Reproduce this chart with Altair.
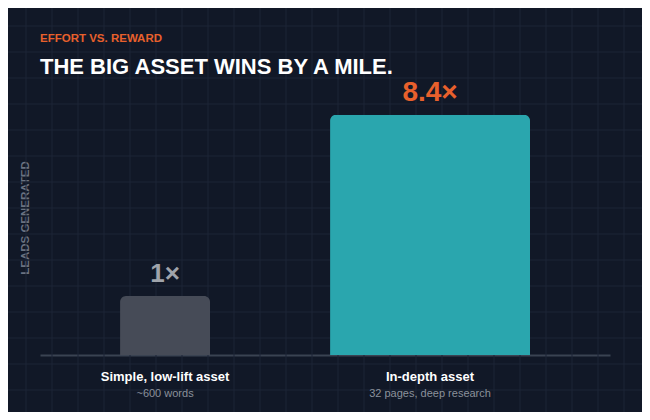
import altair as alt
import pandas as pd

# ---- data ----
categories = ["Simple, low-lift asset", "In-depth asset"]
details = ["~600 words", "32 pages, deep research"]
multiples = [1.0, 8.4]
multiple_labels = ["1×", "8.4×"]

# background grid (decoration, page pixels)
grid_x = list(range(0, 651, 26))
grid_y = list(range(0, 421, 26))

df = pd.DataFrame({"asset": categories, "detail": details,
                   "multiple": multiples, "label": multiple_labels})
gx = pd.DataFrame({"gx": grid_x})
gy = pd.DataFrame({"gy": grid_y})

W, H = 570, 275
BG = "#111827"
FONT = "Liberation Sans"
ORANGE = "#e8602c"
TEAL = "#2aa6ae"
GREYBAR = "#464b57"
GRIDC = "#1c2536"

big = alt.datum.asset == categories[1]

xscale = alt.Scale(type="point", domain=categories, padding=0.5755, align=0.41)
yscale = alt.Scale(type="pow", exponent=0.66, domain=[0, 10.3], nice=False, zero=True)

base = alt.Chart(df)

bars = base.mark_bar(cornerRadiusTopLeft=6, cornerRadiusTopRight=6).encode(
    x=alt.X("asset:N", scale=xscale,
            axis=alt.Axis(title=None, labels=False, ticks=False, grid=False,
                          domain=True, domainColor="#3a4352", domainWidth=2)),
    y=alt.Y("multiple:Q", scale=yscale,
            axis=alt.Axis(title="LEADS GENERATED", labels=False, ticks=False,
                          domain=False, grid=False, titleColor="#6b7280",
                          titleFont=FONT, titleFontSize=11.5, titleFontWeight="bold",
                          titlePadding=10)),
    color=alt.condition(big, alt.value(TEAL), alt.value(GREYBAR)),
    size=alt.condition(big, alt.value(200), alt.value(90)),
)

value_text = base.mark_text(baseline="alphabetic", dy=-14, font=FONT,
                            fontWeight="bold").encode(
    x=alt.X("asset:N", scale=xscale),
    y=alt.Y("multiple:Q", scale=yscale),
    text="label:N",
    color=alt.condition(big, alt.value(ORANGE), alt.value("#a0a4ab")),
    size=alt.condition(big, alt.value(28), alt.value(26)),
)

cat_text = base.mark_text(baseline="alphabetic", dy=26, font=FONT,
                          fontWeight="bold", fontSize=13, color="#ffffff").encode(
    x=alt.X("asset:N", scale=xscale),
    y=alt.datum(0),
    text="asset:N",
)

detail_text = base.mark_text(baseline="alphabetic", dy=42, font=FONT,
                             fontSize=11, color="#8b919b").encode(
    x=alt.X("asset:N", scale=xscale),
    y=alt.datum(0),
    text="detail:N",
)

main = alt.layer(bars, value_text, cat_text, detail_text)

grid_v = alt.Chart(gx).mark_rule(color=GRIDC, strokeWidth=1).encode(
    x=alt.X("gx:Q", scale=alt.Scale(domain=[0, 650], range=[-40, 610], nice=False, zero=False), axis=None),
    y=alt.value(-80),
    y2=alt.value(340),
)
grid_h = alt.Chart(gy).mark_rule(color=GRIDC, strokeWidth=1).encode(
    y=alt.Y("gy:Q", scale=alt.Scale(domain=[0, 420], range=[-80, 340], nice=False, zero=False), axis=None),
    x=alt.value(-40),
    x2=alt.value(610),
)

chart = alt.layer(grid_v, grid_h, main).resolve_scale(
    x="independent", y="independent"
).properties(
    width=W, height=H,
    autosize=alt.AutoSizeParams(type="none"),
    padding={"left": 32, "top": 72, "right": 32, "bottom": 57},
    background=BG,
    title=alt.TitleParams(
        text="EFFORT VS. REWARD", subtitle="THE BIG ASSET WINS BY A MILE.",
        anchor="start", frame="group", orient="top",
        font=FONT, fontSize=11.5, fontWeight="bold", color=ORANGE,
        subtitleFont=FONT, subtitleFontSize=22, subtitleFontWeight="bold",
        subtitleColor="#ffffff", subtitlePadding=12, offset=6, dy=84,
    ),
).configure_view(stroke=None)

chart.save("out.html", embed_options={"renderer": "svg", "actions": False})
